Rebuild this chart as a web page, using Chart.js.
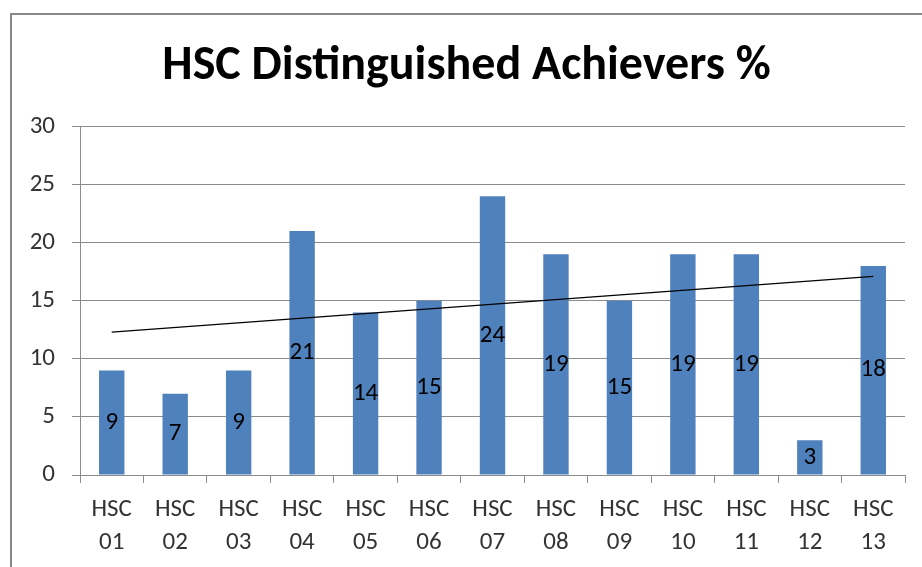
<!DOCTYPE html>
<html>
<head>
<meta charset="utf-8">
<script src="https://cdn.jsdelivr.net/npm/chart.js@4.4.1/dist/chart.umd.min.js"></script>
<style>
    html, body { margin: 0; padding: 0; background: #fff; }
    canvas { display: block; }
</style>
</head>
<body>
<canvas id="achieversChart" width="922" height="567"></canvas>
<script>
// Chart data
const categories = ['HSC 01', 'HSC 02', 'HSC 03', 'HSC 04', 'HSC 05', 'HSC 06', 'HSC 07',
                    'HSC 08', 'HSC 09', 'HSC 10', 'HSC 11', 'HSC 12', 'HSC 13'];
const achievers = [9, 7, 9, 21, 14, 15, 24, 19, 15, 19, 19, 3, 18];
// Trend line: start and end only
const trendStart = 12.3;
const trendEnd = 17.1;
const yTicks = [0, 5, 10, 15, 20, 25, 30];

const FONT = 'Carlito, "Open Sans", sans-serif';
const gridColor = '#8c8c8c';

const trendData = categories.map((c, i) => {
    if (i === 0) return trendStart;
    if (i === categories.length - 1) return trendEnd;
    return null;
});

// Outer frame of the chart object
const framePlugin = {
    id: 'frame',
    beforeDraw(chart) {
        const ctx = chart.ctx;
        ctx.save();
        ctx.fillStyle = '#fff';
        ctx.fillRect(0, 0, chart.width, chart.height);
        ctx.strokeStyle = '#888';
        ctx.lineWidth = 2;
        ctx.strokeRect(11, 14, chart.width + 20, chart.height + 20);
        ctx.restore();
    }
};

// Value labels in the middle of each bar
const barLabels = {
    id: 'barLabels',
    afterDatasetsDraw(chart) {
        const ctx = chart.ctx;
        const meta = chart.getDatasetMeta(0);
        ctx.save();
        ctx.font = '25px ' + FONT;
        ctx.fillStyle = '#000';
        ctx.textAlign = 'center';
        ctx.textBaseline = 'middle';
        meta.data.forEach((bar, i) => {
            const y = (bar.y + bar.base) / 2;
            ctx.fillText(String(achievers[i]), bar.x, y);
        });
        ctx.restore();
    }
};

new Chart(document.getElementById('achieversChart'), {
    type: 'bar',
    data: {
        labels: categories,
        datasets: [{
            label: 'Achievers',
            data: achievers,
            backgroundColor: '#4f81bd',
            barPercentage: 0.4,
            categoryPercentage: 1,
            order: 1
        }, {
            type: 'line',
            label: 'Trend',
            data: trendData,
            spanGaps: true,
            borderColor: '#000',
            borderWidth: 1.3,
            pointRadius: 0,
            fill: false,
            order: 0
        }]
    },
    options: {
        responsive: false,
        animation: false,
        layout: {
            padding: { left: 28, right: 17, top: 0, bottom: 0 }
        },
        plugins: {
            legend: { display: false },
            tooltip: { enabled: false },
            title: {
                display: true,
                text: 'HSC Distinguished Achievers %',
                color: '#000',
                font: { family: FONT, size: 48, weight: 'bold', lineHeight: 1.2 },
                padding: { top: 38, bottom: 31 }
            }
        },
        scales: {
            y: {
                min: 0,
                max: 30,
                afterBuildTicks(scale) {
                    scale.ticks = yTicks.map(v => ({ value: v }));
                },
                afterFit(scale) {
                    scale.width = 52;
                },
                grid: {
                    color: gridColor,
                    lineWidth: 1,
                    tickLength: 8
                },
                border: { color: gridColor, width: 1 },
                ticks: {
                    color: '#333',
                    padding: 17,
                    font: { family: FONT, size: 25 }
                }
            },
            x: {
                afterFit(scale) {
                    scale.height = 92;
                },
                grid: {
                    color: gridColor,
                    drawOnChartArea: false,
                    tickLength: 8,
                    offset: true
                },
                border: { color: gridColor, width: 1 },
                ticks: {
                    color: '#333',
                    padding: 10,
                    maxRotation: 0,
                    autoSkip: false,
                    font: { family: FONT, size: 25, lineHeight: 1.32 },
                    callback: function(value) {
                        return this.getLabelForValue(value).split(' ');
                    }
                }
            }
        }
    },
    plugins: [framePlugin, barLabels]
});
</script>
</body>
</html>
